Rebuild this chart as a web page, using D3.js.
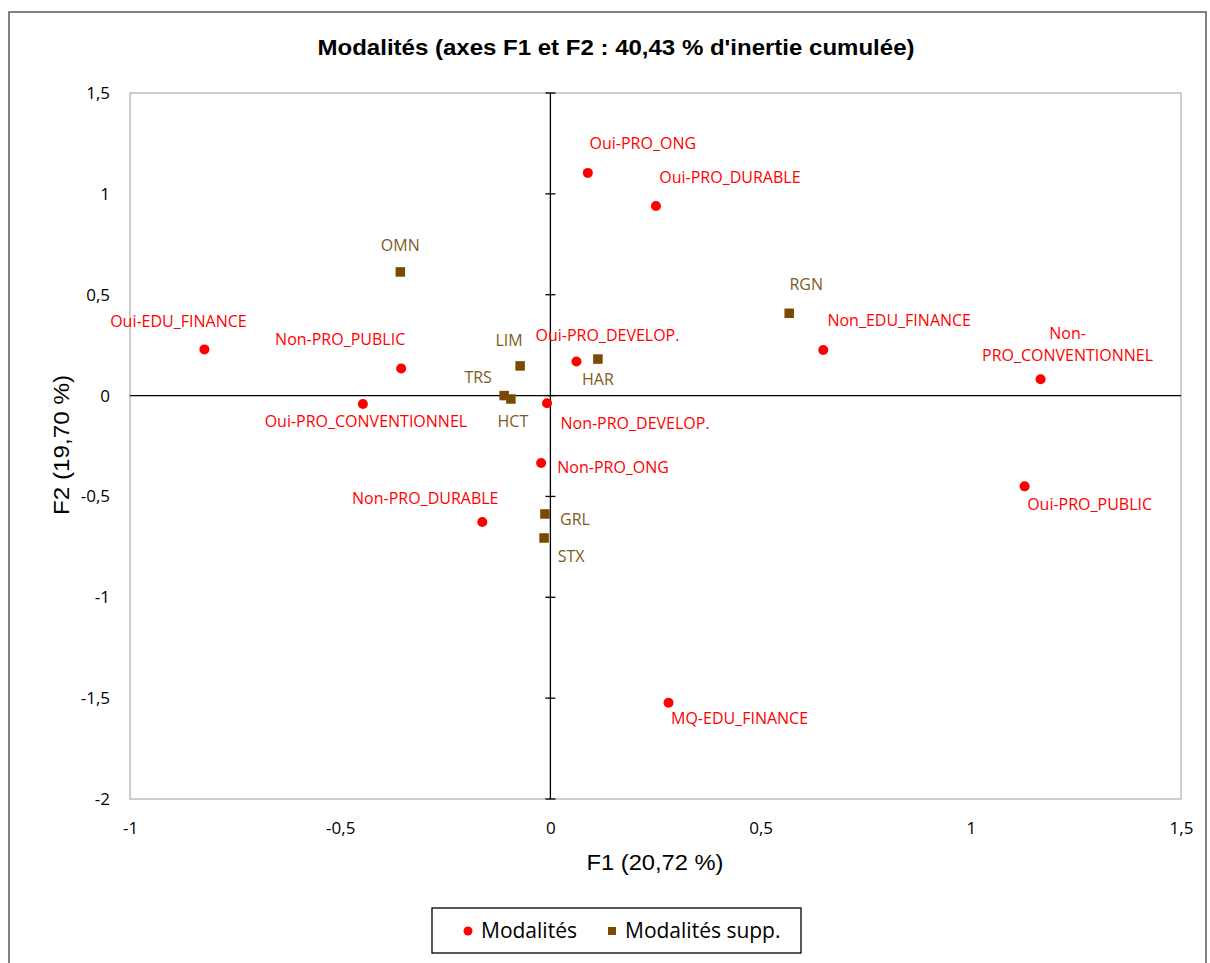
<!DOCTYPE html>
<html>
<head>
<meta charset="utf-8">
<script src="https://cdn.jsdelivr.net/npm/d3@7"></script>
<style>
  html, body { margin: 0; padding: 0; background: #fff; }
  svg { display: block; }
</style>
</head>
<body>
<svg id="chart" width="1210" height="963"></svg>
<script>
// ---- data ----
const actLabels = ["Oui-PRO_ONG","Oui-PRO_DURABLE","Oui-EDU_FINANCE","Non-PRO_PUBLIC","Oui-PRO_CONVENTIONNEL",
  "Non-PRO_DEVELOP.","Oui-PRO_DEVELOP.","Non_EDU_FINANCE","Non-PRO_CONVENTIONNEL","Oui-PRO_PUBLIC",
  "Non-PRO_ONG","Non-PRO_DURABLE","MQ-EDU_FINANCE"];
const actF1 = [0.089, 0.251, -0.823, -0.355, -0.446, -0.008, 0.062, 0.649, 1.166, 1.128, -0.022, -0.162, 0.281];
const actF2 = [1.104, 0.940, 0.229, 0.134, -0.042, -0.038, 0.169, 0.226, 0.081, -0.450, -0.334, -0.627, -1.523];

const supLabels = ["OMN","RGN","LIM","HAR","TRS","HCT","GRL","STX"];
const supF1 = [-0.357, 0.568, -0.072, 0.113, -0.110, -0.094, -0.013, -0.015];
const supF2 = [0.613, 0.408, 0.147, 0.181, 0.000, -0.017, -0.587, -0.706];

const xTicks = [-1, -0.5, 0, 0.5, 1, 1.5];
const yTicks = [1.5, 1, 0.5, 0, -0.5, -1, -1.5, -2];

const titleText = "Modalités (axes F1 et F2 : 40,43 % d'inertie cumulée)";
const xTitle = "F1 (20,72 %)";
const yTitle = "F2 (19,70 %)";
const legendItems = ["Modalités", "Modalités supp."];

// ---- layout / style ----
const RED = "#ff0000", BROWN = "#7b4a00", BROWN_TXT = "#7f5a1e";
const labelFont = "'Open Sans', Lato, sans-serif";
const headFont = "'Liberation Sans', Arial, sans-serif";
// label offsets (dx, dy of text centre relative to the marker)
const actOffsets = {
  "Oui-PRO_ONG":[55,-29], "Oui-PRO_DURABLE":[74,-29], "Oui-EDU_FINANCE":[-26,-28],
  "Non-PRO_PUBLIC":[-61,-29], "Oui-PRO_CONVENTIONNEL":[3,17], "Non-PRO_DEVELOP.":[88,20],
  "Oui-PRO_DEVELOP.":[31,-26], "Non_EDU_FINANCE":[76,-30], "Non-PRO_CONVENTIONNEL":[27,-35],
  "Oui-PRO_PUBLIC":[65,18], "Non-PRO_ONG":[72,4], "Non-PRO_DURABLE":[-57,-24], "MQ-EDU_FINANCE":[71,16]
};
const supOffsets = {
  "OMN":[0,-27], "RGN":[17,-29], "LIM":[-11,-26], "HAR":[0,20], "TRS":[-26,-18],
  "HCT":[2,22], "GRL":[30,5], "STX":[27,18]
};

const svg = d3.select("#chart");

// outer frame
svg.append("rect").attr("x", 9).attr("y", 12).attr("width", 1197).attr("height", 980)
  .attr("fill", "#fff").attr("stroke", "#595959").attr("stroke-width", 1.5);

const plot = {left: 130, right: 1181, top: 93, bottom: 799};
const x = d3.scaleLinear().domain([-1, 1.5]).range([plot.left, plot.right]);
const y = d3.scaleLinear().domain([-2, 1.5]).range([plot.bottom, plot.top]);

// title
svg.append("text").attr("x", 616).attr("y", 55).attr("text-anchor", "middle")
  .attr("font-family", headFont).attr("font-weight", "bold")
  .attr("font-size", 22).attr("textLength", 597).attr("lengthAdjust", "spacingAndGlyphs")
  .attr("fill", "#000").text(titleText);

// plot border
svg.append("rect").attr("x", plot.left).attr("y", plot.top)
  .attr("width", plot.right - plot.left).attr("height", plot.bottom - plot.top)
  .attr("fill", "none").attr("stroke", "#bfbfbf").attr("stroke-width", 1.5);

// axis tick labels using d3 axes (domain/ticks hidden)
const fmt = d => String(d).replace(".", ",");
const xAxis = svg.append("g").attr("transform", `translate(0,${plot.bottom})`)
  .call(d3.axisBottom(x).tickValues(xTicks).tickFormat(fmt).tickSize(0).tickPadding(23));
const yAxis = svg.append("g").attr("transform", `translate(${plot.left},0)`)
  .call(d3.axisLeft(y).tickValues(yTicks).tickFormat(fmt).tickSize(0).tickPadding(20));
[xAxis, yAxis].forEach(g => {
  g.select(".domain").remove();
  g.selectAll("text").attr("font-family", labelFont).attr("font-size", 17).attr("fill", "#000");
});

// zero axes
svg.append("line").attr("x1", plot.left).attr("x2", plot.right).attr("y1", y(0)).attr("y2", y(0))
  .attr("stroke", "#000").attr("stroke-width", 1.3);
svg.append("line").attr("x1", x(0)).attr("x2", x(0)).attr("y1", plot.top).attr("y2", plot.bottom)
  .attr("stroke", "#000").attr("stroke-width", 1.3);
// tick marks along vertical zero axis
svg.append("g").selectAll("line").data(yTicks).join("line")
  .attr("x1", x(0) - 5).attr("x2", x(0) + 5).attr("y1", d => y(d)).attr("y2", d => y(d))
  .attr("stroke", "#000").attr("stroke-width", 1.3);

// axis titles
svg.append("text").attr("x", 655).attr("y", 870).attr("text-anchor", "middle")
  .attr("font-family", headFont).attr("font-size", 22)
  .attr("textLength", 137).attr("lengthAdjust", "spacingAndGlyphs").text(xTitle);
svg.append("text").attr("transform", `translate(69,445) rotate(-90)`)
  .attr("text-anchor", "middle")
  .attr("font-family", headFont).attr("font-size", 22)
  .attr("textLength", 140).attr("lengthAdjust", "spacingAndGlyphs").text(yTitle);

// points
const act = actLabels.map((l, i) => ({label: l, f1: actF1[i], f2: actF2[i]}));
const sup = supLabels.map((l, i) => ({label: l, f1: supF1[i], f2: supF2[i]}));

svg.append("g").selectAll("circle").data(act).join("circle")
  .attr("cx", d => x(d.f1)).attr("cy", d => y(d.f2)).attr("r", 5).attr("fill", RED);
svg.append("g").selectAll("rect").data(sup).join("rect")
  .attr("x", d => x(d.f1) - 4.75).attr("y", d => y(d.f2) - 4.75)
  .attr("width", 9.5).attr("height", 9.5).attr("fill", BROWN);

// labels
function addLabels(data, offsets, color) {
  const g = svg.append("g");
  data.forEach(d => {
    const [dx, dy] = offsets[d.label];
    const t = g.append("text").attr("text-anchor", "middle")
      .attr("font-family", labelFont).attr("font-size", 16).attr("fill", color)
      .attr("x", x(d.f1) + dx).attr("y", y(d.f2) + dy).attr("dy", "0.35em");
    if (d.label === "Non-PRO_CONVENTIONNEL") {
      t.append("tspan").attr("x", x(d.f1) + dx).attr("dy", "-0.35em").text("Non-");
      t.append("tspan").attr("x", x(d.f1) + dx).attr("dy", "1.38em").text("PRO_CONVENTIONNEL");
    } else {
      t.text(d.label);
    }
  });
}
addLabels(act, actOffsets, RED);
addLabels(sup, supOffsets, BROWN_TXT);

// legend
const lg = svg.append("g");
lg.append("rect").attr("x", 432).attr("y", 908).attr("width", 369).attr("height", 45)
  .attr("fill", "#fff").attr("stroke", "#000").attr("stroke-width", 1.3);
lg.append("circle").attr("cx", 468).attr("cy", 931).attr("r", 4.5).attr("fill", RED);
lg.append("text").attr("x", 481).attr("y", 931).attr("dy", "0.35em")
  .attr("font-family", labelFont).attr("font-size", 21).text(legendItems[0]);
lg.append("rect").attr("x", 608).attr("y", 927).attr("width", 8).attr("height", 8).attr("fill", BROWN);
lg.append("text").attr("x", 625).attr("y", 931).attr("dy", "0.35em")
  .attr("font-family", labelFont).attr("font-size", 21).text(legendItems[1]);
</script>
</body>
</html>
